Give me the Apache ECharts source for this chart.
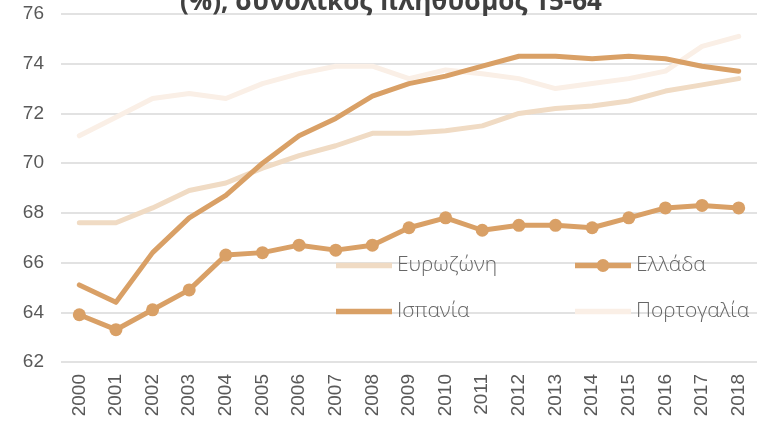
<!DOCTYPE html>
<html><head><meta charset="utf-8">
<script src="https://cdn.jsdelivr.net/npm/echarts@6/dist/echarts.min.js"></script>
<style>html,body{margin:0;padding:0;background:#fff}#c{width:757px;height:425px}</style>
</head><body><div id="c"></div>
<script>
const years = ['2000','2001','2002','2003','2004','2005','2006','2007','2008','2009','2010','2011','2012','2013','2014','2015','2016','2017','2018'];
const eurozone = [67.6,67.6,68.2,68.9,69.2,69.8,70.3,70.7,71.2,71.2,71.3,71.5,72.0,72.2,72.3,72.5,72.9,73.15,73.4];
const greece   = [63.9,63.3,64.1,64.9,66.3,66.4,66.7,66.5,66.7,67.4,67.8,67.3,67.5,67.5,67.4,67.8,68.2,68.3,68.2];
const spain    = [65.1,64.4,66.4,67.8,68.7,70.0,71.1,71.8,72.7,73.2,73.5,73.9,74.3,74.3,74.2,74.3,74.2,73.9,73.7];
const portugal = [71.1,71.85,72.6,72.8,72.6,73.2,73.6,73.9,73.9,73.4,73.75,73.6,73.4,73.0,73.2,73.4,73.7,74.7,75.1];
const names = ['Ευρωζώνη','Ελλάδα','Ισπανία','Πορτογαλία'];
const titleText = '(%), συνολικός πληθυσμός 15-64';

const cEuro = '#F0DBC4', cTan = '#D9A066', cPort = '#FAEFE6';
const chart = echarts.init(document.getElementById('c'));
function line(name, data, color, sym) {
  return {
    name, type: 'line', data,
    symbol: sym ? 'circle' : 'none', symbolSize: 13, showSymbol: !!sym,
    lineStyle: { color, width: 5, cap: 'round', join: 'round' },
    itemStyle: { color },
    emphasis: { disabled: true }, animation: false, z: sym ? 4 : 3
  };
}
const barIcon = 'path://M0,0 L56,0 L56,5.5 L0,5.5 Z';
const dotIcon = 'path://M0,4 L56,4 L56,9.5 L0,9.5 Z M21.5,6.75 A6.5,6.5 0 1,1 34.5,6.75 A6.5,6.5 0 1,1 21.5,6.75 Z';
const legText = { fontSize: 21, color: '#666666', fontFamily: 'Open Sans', fontWeight: 300, padding: [4, 0, 0, 0] };
chart.setOption({
  animation: false,
  title: { text: titleText, left: 180, top: -10, padding: 0,
    textStyle: { fontSize: 26, fontWeight: 'bold', color: '#404040', fontFamily: 'Open Sans' } },
  grid: { left: 61, right: 0, top: 14, bottom: 63 },
  legend: [
    { data: [{ name: names[0], icon: barIcon }, { name: names[2], icon: barIcon }],
      orient: 'vertical', left: 336, top: 255, itemGap: 25,
      itemWidth: 56, itemHeight: 14, textStyle: legText, padding: 0 },
    { data: [{ name: names[1], icon: dotIcon }, { name: names[3], icon: barIcon }],
      orient: 'vertical', left: 575, top: 255, itemGap: 25,
      itemWidth: 56, itemHeight: 14, textStyle: legText, padding: 0 }
  ],
  xAxis: {
    type: 'category', data: years, boundaryGap: true,
    axisLine: { show: false }, axisTick: { show: false },
    axisLabel: { rotate: 90, fontSize: 19, color: '#595959', fontFamily: 'Liberation Sans', margin: 12 }
  },
  yAxis: {
    type: 'value', min: 62, max: 76, interval: 2,
    axisLine: { show: false }, axisTick: { show: false },
    axisLabel: { fontSize: 19, color: '#595959', fontFamily: 'Liberation Sans', margin: 17 },
    splitLine: { lineStyle: { color: '#D9D9D9', width: 1.5 } }
  },
  series: [
    line(names[3], portugal, cPort, false),
    line(names[0], eurozone, cEuro, false),
    line(names[2], spain, cTan, false),
    line(names[1], greece, cTan, true)
  ]
});
</script></body></html>
